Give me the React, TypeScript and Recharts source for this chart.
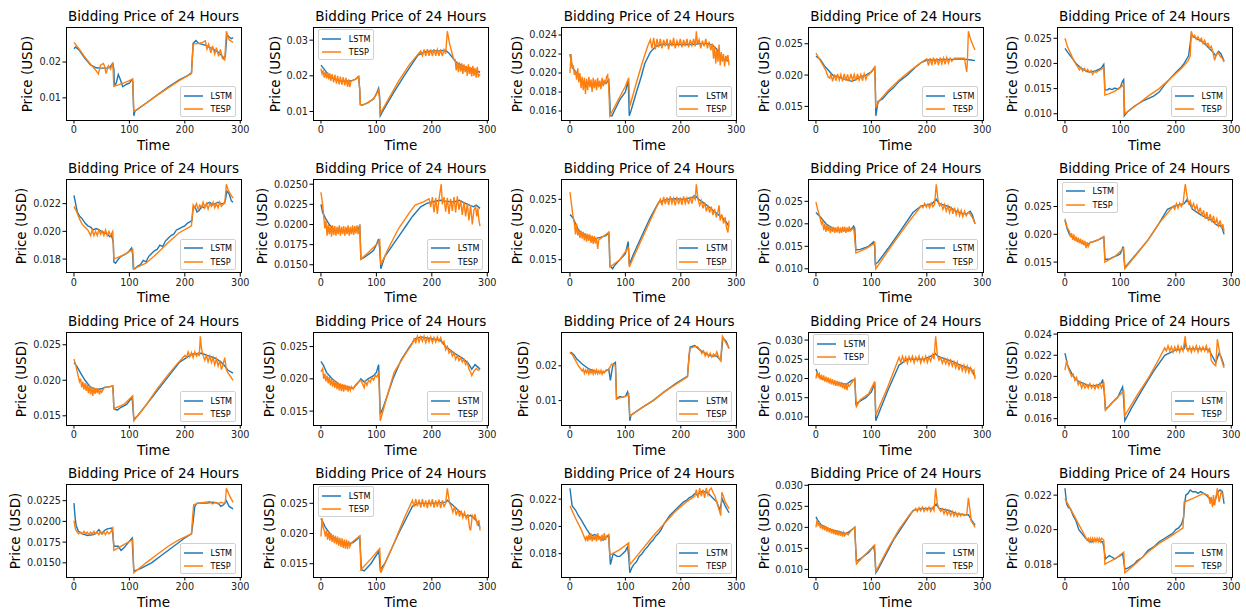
import { LineChart, Line, XAxis, YAxis } from 'recharts';

type Pt = [number, number];

// [time slot, price in 0.0001 USD] pairs for each hour-ahead forecast
const lstm01: Pt[] = [[0,237],[3,242],[10,232],[20,210],[30,192],[40,184],[50,183],[60,183],[65,186],[70,196],[72,180],[73,136],[76,140],[80,165],[84,150],[88,131],[95,138],[100,141],[104,150],[106,147],[108,50],[110,63],[130,85],[150,108],[170,130],[190,150],[205,162],[212,170],[215,252],[220,260],[225,252],[230,250],[235,248],[240,245],[245,240],[250,238],[255,232],[260,228],[265,220],[270,212],[273,215],[276,276],[280,270],[284,265],[287,268]];
const tesp01: Pt[] = [[0,255],[10,235],[20,213],[30,194],[38,180],[44,167],[48,191],[53,196],[55,190],[58,168],[62,190],[66,180],[70,198],[72,132],[80,136],[90,142],[100,148],[106,153],[108,62],[130,85],[150,107],[170,128],[190,148],[212,168],[215,250],[225,252],[232,255],[237,259],[240,236],[243,250],[247,226],[250,245],[254,222],[257,240],[261,216],[264,235],[268,210],[272,206],[275,286],[280,262],[287,255]];

const lstm02: Pt[] = [[0,230],[5,220],[15,200],[25,190],[35,186],[45,185],[55,186],[62,190],[68,198],[70,160],[71,120],[75,118],[85,125],[95,135],[100,150],[104,165],[106,140],[107,88],[110,97],[130,150],[150,200],[165,235],[175,258],[190,268],[205,270],[215,270],[225,272],[230,265],[238,250],[245,236],[255,228],[265,222],[275,218],[287,210]];
const tesp02: Pt[] = [[0,220],[2,205],[4,215],[6,195],[8,212],[10,193],[12,210],[14,190],[16,207],[18,186],[20,205],[23,182],[25,203],[28,178],[30,200],[33,176],[35,198],[38,175],[40,196],[43,173],[45,194],[48,170],[50,190],[52,168],[54,185],[58,188],[64,192],[68,197],[70,160],[71,118],[75,118],[85,125],[95,136],[100,148],[104,160],[106,130],[107,95],[120,130],[140,185],[160,232],[180,270],[183,256],[186,274],[189,255],[192,275],[195,256],[198,274],[201,255],[204,275],[207,256],[210,274],[213,256],[216,275],[219,255],[222,273],[225,262],[228,325],[232,290],[238,255],[240,245],[242,245],[244,215],[246,240],[248,210],[250,238],[252,212],[254,235],[256,205],[258,232],[260,210],[262,228],[264,200],[266,232],[268,205],[270,225],[272,198],[274,228],[276,200],[278,222],[280,195],[282,225],[284,198],[287,205]];

const lstm03: Pt[] = [[0,220],[3,210],[5,205],[12,200],[20,193],[25,190],[35,188],[45,187],[55,188],[65,189],[70,193],[72,170],[73,155],[76,155],[80,160],[90,172],[100,180],[105,192],[106,175],[107,155],[110,160],[120,180],[128,195],[135,210],[145,222],[155,228],[165,230],[180,230],[200,230],[220,230],[235,231],[250,231],[258,229],[265,225],[270,219],[275,215],[280,214],[287,212]];
const tesp03: Pt[] = [[0,200],[2,220],[4,205],[6,208],[8,198],[10,202],[12,193],[14,205],[16,190],[18,200],[20,184],[22,196],[24,182],[26,195],[28,178],[30,194],[32,182],[34,196],[36,185],[38,193],[40,180],[42,195],[44,184],[46,193],[48,182],[50,195],[52,185],[54,192],[56,183],[58,195],[60,186],[62,193],[64,188],[66,196],[68,198],[70,185],[72,155],[80,164],[90,175],[100,186],[106,195],[108,165],[120,190],[130,210],[140,228],[145,235],[148,226],[151,237],[154,225],[157,236],[160,227],[163,236],[166,226],[169,235],[172,228],[175,236],[178,225],[181,235],[184,228],[187,237],[190,226],[193,234],[196,229],[199,236],[202,227],[205,235],[208,228],[211,236],[214,227],[217,235],[220,229],[223,236],[226,228],[228,244],[230,230],[233,235],[236,226],[239,234],[242,228],[245,236],[248,226],[251,233],[254,224],[257,231],[259,215],[261,228],[263,210],[265,225],[267,212],[269,230],[271,208],[273,222],[275,212],[277,220],[279,207],[281,218],[283,214],[285,219],[287,208]];

const lstm04: Pt[] = [[0,230],[8,225],[15,215],[20,210],[30,200],[40,197],[50,194],[58,192],[65,190],[72,193],[80,197],[90,200],[100,205],[106,212],[107,190],[108,135],[112,158],[120,162],[130,172],[140,180],[150,190],[165,200],[180,213],[190,220],[200,224],[215,224],[230,225],[245,225],[260,226],[270,225],[280,224],[287,223]];
const tesp04: Pt[] = [[0,235],[10,220],[18,207],[22,197],[25,195],[27,202],[30,190],[33,201],[36,191],[39,202],[42,192],[45,201],[48,190],[51,202],[54,191],[57,201],[60,190],[63,202],[66,192],[69,201],[72,191],[75,202],[78,192],[81,201],[84,191],[87,202],[90,193],[93,201],[95,200],[106,213],[107,180],[108,148],[115,160],[130,175],[150,192],[170,207],[185,217],[200,226],[203,215],[206,227],[209,216],[212,228],[215,217],[218,227],[221,216],[224,228],[227,218],[230,227],[233,217],[236,228],[239,219],[242,227],[245,222],[250,227],[268,227],[270,215],[272,205],[273,218],[275,270],[278,260],[282,250],[287,240]];

const lstm05: Pt[] = [[0,230],[5,222],[10,215],[20,200],[30,190],[40,184],[45,183],[55,185],[65,190],[70,198],[71,180],[72,148],[76,147],[80,150],[85,148],[90,151],[95,149],[100,153],[104,165],[106,168],[107,96],[112,103],[125,115],[140,125],[160,135],[170,143],[180,158],[190,170],[200,182],[210,193],[215,200],[223,215],[226,240],[228,258],[232,253],[240,248],[245,245],[255,236],[260,230],[266,224],[272,215],[277,224],[281,220],[285,210],[287,205]];
const tesp05: Pt[] = [[0,250],[5,232],[10,220],[15,208],[20,198],[23,193],[26,187],[29,192],[32,185],[35,190],[38,184],[41,188],[44,182],[47,186],[50,178],[53,184],[56,182],[60,185],[65,188],[70,192],[71,170],[72,137],[80,140],[90,145],[100,152],[106,158],[108,100],[130,118],[150,135],[170,150],[190,170],[210,190],[222,205],[226,215],[228,264],[231,252],[234,256],[237,248],[240,253],[243,245],[246,250],[249,240],[252,246],[255,236],[258,240],[261,230],[264,234],[267,222],[270,206],[273,218],[276,222],[280,214],[284,210],[287,203]];

const lstm06: Pt[] = [[0,226],[3,220],[6,214],[10,211],[15,209],[20,206],[25,204],[30,203],[35,201],[40,202],[45,201],[50,200],[55,199],[60,198],[65,196],[68,197],[71,192],[72,178],[75,177],[80,180],[85,182],[90,183],[95,184],[100,186],[104,188],[106,183],[107,173],[110,173],[115,175],[120,176],[125,179],[130,178],[135,182],[140,184],[145,186],[150,187],[155,190],[160,189],[165,193],[170,195],[175,197],[180,198],[185,201],[190,202],[195,203],[200,204],[205,206],[210,207],[213,208],[215,217],[218,218],[222,214],[226,215],[230,218],[235,217],[240,220],[245,221],[250,219],[255,220],[260,221],[265,220],[270,220],[273,222],[276,229],[280,227],[284,222],[287,221]];
const tesp06: Pt[] = [[0,218],[5,214],[10,209],[15,205],[20,203],[25,201],[30,197],[33,201],[36,197],[39,200],[42,197],[45,201],[48,198],[51,200],[54,197],[57,201],[60,197],[63,200],[66,197],[70,200],[72,180],[90,183],[106,187],[108,173],[130,177],[150,184],[170,192],[190,199],[212,204],[215,219],[218,217],[221,220],[224,216],[227,219],[230,217],[233,221],[236,217],[239,220],[242,216],[245,220],[248,218],[251,221],[254,217],[257,220],[260,217],[263,221],[266,218],[270,220],[272,220],[275,234],[278,230],[282,227],[287,224]];

const lstm07: Pt[] = [[0,225],[3,215],[8,208],[15,200],[20,196],[25,193],[35,192],[45,192],[55,192],[65,193],[70,198],[71,180],[72,157],[75,158],[80,160],[90,165],[95,168],[100,175],[104,182],[106,170],[108,145],[115,160],[130,175],[145,190],[155,200],[165,210],[180,222],[190,226],[200,228],[215,230],[225,229],[240,228],[250,230],[258,227],[265,225],[275,222],[280,224],[287,220]];
const tesp07: Pt[] = [[0,240],[3,225],[5,210],[7,195],[9,205],[11,186],[13,200],[15,188],[17,198],[19,185],[21,199],[23,187],[25,198],[27,186],[29,197],[31,188],[33,199],[35,186],[37,197],[39,188],[41,198],[43,186],[45,197],[47,188],[49,199],[51,186],[53,197],[55,188],[57,199],[59,187],[61,198],[63,189],[65,199],[67,188],[70,200],[71,180],[72,157],[85,165],[100,175],[106,181],[108,150],[120,168],[140,195],[160,215],[170,224],[185,228],[195,232],[198,222],[201,234],[204,215],[207,233],[210,213],[213,232],[217,250],[219,225],[222,234],[225,216],[228,233],[231,213],[234,232],[237,217],[240,234],[243,215],[246,235],[249,218],[252,230],[255,212],[258,228],[261,210],[264,226],[267,205],[270,224],[273,200],[276,218],[279,222],[281,210],[283,220],[285,205],[287,198]];

const lstm08: Pt[] = [[0,225],[5,220],[10,210],[15,200],[20,195],[30,190],[45,185],[55,187],[65,190],[70,195],[71,175],[72,140],[77,135],[80,140],[90,150],[100,160],[105,180],[106,165],[107,142],[115,160],[130,190],[145,220],[160,245],[175,250],[190,251],[205,250],[220,253],[226,256],[232,250],[240,245],[250,238],[260,230],[270,223],[275,220],[282,212],[287,205]];
const tesp08: Pt[] = [[0,262],[3,240],[5,225],[8,210],[10,192],[12,210],[14,190],[16,200],[18,186],[20,198],[22,185],[24,196],[26,182],[28,194],[30,180],[32,193],[34,181],[36,192],[38,178],[40,190],[42,176],[44,189],[46,177],[48,186],[50,168],[52,183],[55,185],[62,190],[70,195],[71,175],[72,138],[90,150],[105,170],[106,160],[107,138],[120,165],[140,205],[155,235],[163,250],[166,240],[169,254],[172,242],[175,253],[178,241],[181,255],[184,243],[187,252],[190,240],[193,254],[196,242],[199,253],[202,241],[205,255],[208,243],[211,252],[214,242],[217,254],[220,243],[223,255],[226,250],[228,275],[231,250],[234,240],[237,248],[240,235],[243,245],[246,230],[249,240],[252,228],[255,238],[258,224],[261,234],[264,220],[267,230],[269,240],[271,215],[274,225],[277,210],[280,220],[282,205],[285,195],[287,215]];

const lstm09: Pt[] = [[0,225],[4,220],[8,215],[18,200],[30,190],[40,186],[50,185],[60,185],[65,190],[68,195],[70,190],[72,142],[80,143],[95,150],[104,160],[106,150],[107,110],[112,115],[130,145],[150,180],[175,225],[190,240],[200,242],[210,245],[217,255],[222,245],[230,242],[240,238],[250,230],[260,225],[265,222],[272,222],[278,228],[282,220],[287,200]];
const tesp09: Pt[] = [[0,248],[3,232],[6,220],[8,210],[10,200],[12,206],[14,186],[16,200],[18,182],[20,198],[22,184],[24,196],[26,180],[28,194],[30,182],[32,193],[34,180],[36,192],[38,181],[40,194],[42,179],[44,192],[46,180],[48,194],[50,182],[52,193],[54,180],[56,192],[58,182],[60,194],[62,184],[65,188],[68,190],[70,170],[72,135],[90,145],[104,155],[106,158],[108,100],[130,140],[150,175],[170,208],[190,240],[193,236],[196,245],[199,237],[202,244],[205,236],[208,246],[211,238],[214,244],[217,288],[220,255],[223,240],[226,245],[229,232],[232,243],[235,228],[238,240],[241,225],[244,238],[247,222],[250,236],[253,220],[256,232],[259,218],[262,230],[265,216],[268,228],[271,218],[274,225],[277,224],[280,218],[284,210],[287,200]];

const lstm10: Pt[] = [[0,225],[4,210],[8,200],[15,193],[25,188],[30,185],[40,180],[45,185],[55,188],[60,190],[70,195],[71,180],[72,155],[80,155],[85,158],[95,162],[100,165],[105,178],[106,165],[108,140],[125,160],[150,190],[170,220],[185,245],[200,252],[215,255],[220,262],[225,255],[230,245],[245,235],[255,230],[265,225],[272,218],[277,215],[280,216],[284,210],[287,200]];
const tesp10: Pt[] = [[0,228],[4,212],[8,205],[10,195],[12,202],[14,190],[16,200],[18,188],[20,196],[22,186],[24,194],[26,184],[28,192],[30,182],[32,190],[34,180],[36,188],[38,175],[40,186],[42,178],[45,185],[52,187],[60,190],[70,196],[71,175],[72,150],[90,160],[106,175],[108,138],[130,165],[150,190],[170,220],[195,250],[198,245],[201,255],[204,247],[207,256],[210,250],[213,255],[217,290],[220,270],[223,255],[226,260],[229,248],[232,255],[235,244],[238,252],[241,238],[244,248],[247,233],[250,243],[253,228],[256,240],[259,224],[262,236],[265,222],[268,233],[271,218],[274,228],[277,215],[280,225],[283,210],[285,218],[287,205]];

const lstm11: Pt[] = [[0,225],[5,220],[12,210],[20,200],[30,190],[40,187],[50,188],[55,190],[65,191],[70,192],[71,180],[72,160],[78,158],[85,162],[95,166],[105,176],[106,165],[108,145],[115,150],[135,170],[155,190],[175,210],[190,225],[205,233],[215,237],[230,238],[240,235],[255,231],[265,226],[272,220],[278,214],[287,210]];
const tesp11: Pt[] = [[0,230],[3,222],[5,215],[8,205],[10,198],[12,202],[14,190],[16,198],[18,187],[20,196],[22,185],[24,195],[26,182],[28,192],[30,180],[32,191],[34,178],[36,190],[38,181],[40,189],[42,182],[44,188],[46,180],[48,186],[50,183],[55,190],[60,190],[65,191],[70,192],[71,180],[72,160],[90,166],[106,178],[108,143],[130,165],[150,188],[170,208],[185,222],[200,235],[203,232],[206,240],[209,233],[212,239],[215,232],[218,240],[221,234],[224,238],[226,234],[228,262],[230,245],[233,235],[236,228],[239,235],[242,226],[245,234],[248,225],[251,232],[254,222],[257,230],[260,220],[263,228],[266,215],[269,222],[272,232],[275,215],[278,210],[282,206],[287,200]];

const lstm12: Pt[] = [[0,227],[5,220],[10,210],[20,200],[35,190],[50,187],[58,185],[65,192],[68,195],[72,200],[78,195],[85,200],[95,205],[100,210],[104,222],[105,200],[107,145],[112,155],[120,175],[130,200],[145,230],[160,250],[170,262],[180,265],[200,262],[215,260],[225,250],[240,240],[255,232],[265,225],[272,215],[278,222],[287,215]];
const tesp12: Pt[] = [[0,211],[3,216],[5,200],[7,208],[9,196],[11,205],[13,193],[15,203],[17,190],[19,200],[21,188],[23,198],[25,186],[27,196],[29,184],[31,194],[33,182],[35,193],[37,181],[39,192],[41,180],[43,191],[45,182],[47,190],[49,180],[51,189],[53,182],[55,188],[58,184],[62,190],[66,194],[72,198],[76,190],[78,186],[80,196],[83,190],[86,198],[89,195],[92,202],[95,198],[98,205],[101,203],[104,210],[105,190],[107,135],[120,175],[132,210],[150,235],[165,255],[168,262],[171,256],[174,266],[177,257],[180,265],[183,258],[186,266],[189,256],[192,264],[195,257],[198,265],[201,256],[204,264],[207,257],[210,265],[213,258],[216,264],[219,255],[222,258],[225,245],[228,250],[231,240],[234,244],[237,235],[240,240],[243,230],[246,236],[249,228],[252,233],[255,226],[258,230],[261,222],[264,226],[267,215],[270,210],[272,205],[276,212],[280,216],[284,213],[287,215]];

const lstm13: Pt[] = [[0,235],[3,238],[8,230],[12,220],[22,205],[35,190],[50,183],[60,180],[65,185],[70,190],[73,158],[76,190],[78,205],[82,210],[83,160],[84,105],[90,112],[95,110],[100,112],[104,125],[106,110],[108,42],[110,58],[130,80],[150,100],[170,125],[190,148],[205,163],[212,170],[215,230],[217,254],[225,258],[235,245],[245,235],[250,230],[258,228],[265,228],[272,215],[274,250],[276,280],[282,270],[287,250]];
const tesp13: Pt[] = [[0,240],[5,230],[12,210],[16,198],[20,190],[22,185],[24,191],[26,178],[28,188],[30,180],[32,189],[34,177],[36,188],[38,179],[40,187],[42,176],[44,186],[46,178],[48,188],[50,177],[52,186],[54,178],[56,187],[58,176],[60,185],[62,180],[65,188],[68,188],[72,195],[75,205],[82,200],[84,105],[95,110],[104,115],[106,122],[108,55],[130,80],[150,100],[170,125],[190,146],[212,168],[214,210],[216,250],[225,255],[230,255],[235,245],[238,235],[241,243],[244,228],[247,238],[250,226],[253,236],[256,225],[259,234],[262,228],[265,240],[268,225],[272,215],[275,285],[280,270],[287,250]];

const lstm14: Pt[] = [[0,225],[4,210],[8,200],[20,195],[35,190],[45,188],[55,185],[65,195],[70,198],[71,170],[72,133],[78,140],[90,150],[100,165],[104,180],[106,190],[107,140],[108,90],[112,105],[130,170],[150,235],[165,250],[180,250],[195,250],[210,260],[215,265],[220,258],[225,255],[245,245],[260,235],[270,230],[280,225],[287,205]];
const tesp14: Pt[] = [[0,200],[2,218],[4,205],[6,212],[8,198],[10,210],[12,195],[14,208],[16,192],[18,205],[20,190],[22,203],[24,187],[26,200],[28,185],[30,198],[32,183],[34,196],[36,181],[38,194],[40,180],[42,192],[44,178],[46,190],[48,175],[50,188],[52,172],[54,186],[56,170],[58,185],[60,180],[65,190],[70,200],[71,170],[73,127],[80,145],[95,160],[106,192],[107,150],[108,105],[130,180],[150,255],[153,242],[156,258],[159,244],[162,256],[165,240],[168,257],[171,245],[174,258],[177,241],[180,256],[183,246],[186,258],[189,240],[192,255],[195,244],[198,258],[201,242],[204,256],[207,245],[210,262],[213,250],[216,310],[219,260],[222,248],[225,255],[228,240],[231,252],[234,238],[237,250],[240,235],[243,248],[246,232],[249,244],[252,228],[255,242],[258,222],[261,238],[264,220],[267,235],[270,218],[273,232],[276,215],[279,228],[282,215],[285,222],[287,198]];

const lstm15: Pt[] = [[0,222],[5,210],[10,205],[15,200],[25,195],[40,192],[50,191],[60,192],[66,194],[68,197],[71,185],[73,169],[80,172],[85,175],[95,180],[104,190],[106,178],[108,158],[120,170],[140,188],[160,205],[180,220],[200,225],[215,226],[217,232],[220,226],[235,226],[250,226],[260,225],[265,220],[272,213],[278,222],[282,218],[287,210]];
const tesp15: Pt[] = [[0,206],[3,215],[6,208],[9,204],[12,200],[15,202],[18,196],[21,199],[24,192],[27,195],[30,189],[33,193],[36,189],[39,192],[42,189],[45,193],[48,189],[51,192],[54,188],[57,192],[60,189],[63,193],[66,189],[70,195],[71,185],[73,168],[90,178],[106,186],[108,163],[130,182],[150,198],[165,212],[180,227],[183,224],[186,229],[189,224],[192,228],[195,223],[198,228],[201,224],[204,229],[207,223],[210,228],[213,224],[217,238],[219,227],[222,224],[225,228],[228,223],[231,228],[234,224],[237,229],[240,223],[243,228],[246,224],[249,228],[252,224],[255,229],[258,223],[261,227],[264,215],[268,212],[272,210],[275,235],[280,220],[284,213],[287,208]];

const lstm16: Pt[] = [[0,222],[2,205],[4,195],[8,188],[15,185],[25,183],[35,184],[40,186],[45,190],[50,185],[55,189],[60,191],[68,192],[70,185],[72,170],[80,170],[85,165],[90,168],[95,172],[100,176],[105,180],[106,165],[108,140],[120,143],[140,150],[160,160],[180,170],[200,180],[212,185],[215,200],[218,218],[222,222],[240,222],[250,223],[260,222],[265,218],[270,220],[275,225],[280,218],[287,215]];
const tesp16: Pt[] = [[0,201],[3,190],[8,185],[12,187],[15,185],[18,188],[21,185],[24,187],[27,184],[30,187],[33,185],[36,188],[39,185],[42,187],[45,184],[48,188],[51,185],[54,187],[57,184],[60,188],[63,185],[66,187],[70,192],[71,180],[72,165],[90,172],[106,178],[108,138],[130,150],[150,160],[170,170],[190,178],[212,185],[214,205],[216,220],[225,222],[235,223],[245,224],[250,221],[255,223],[260,221],[265,223],[270,222],[273,222],[275,240],[280,232],[287,223]];

const lstm17: Pt[] = [[0,225],[4,218],[8,210],[20,195],[35,187],[50,183],[58,185],[65,190],[70,195],[71,175],[73,140],[78,138],[90,150],[104,170],[105,165],[107,140],[115,150],[140,200],[165,245],[175,250],[200,250],[225,252],[228,255],[240,245],[255,232],[265,228],[270,230],[280,222],[287,210]];
const tesp17: Pt[] = [[0,195],[2,225],[4,210],[6,205],[8,195],[10,205],[12,190],[14,203],[16,188],[18,200],[20,186],[22,198],[24,184],[26,196],[28,182],[30,195],[32,180],[34,193],[36,178],[38,192],[40,176],[42,190],[44,175],[46,190],[48,174],[50,188],[52,178],[55,185],[62,190],[70,196],[71,175],[72,140],[90,158],[106,175],[108,135],[130,180],[150,225],[165,255],[168,244],[171,257],[174,245],[177,256],[180,243],[183,257],[186,244],[189,255],[192,242],[195,256],[198,245],[201,257],[204,243],[207,255],[210,244],[213,256],[216,242],[219,255],[222,245],[225,250],[228,275],[232,250],[235,245],[238,235],[241,245],[244,230],[247,240],[250,228],[253,238],[256,226],[259,235],[262,225],[265,232],[268,210],[270,205],[273,230],[276,225],[278,232],[280,222],[282,215],[285,222],[287,205]];

const lstm18: Pt[] = [[0,228],[4,215],[10,212],[15,208],[20,205],[30,198],[38,193],[45,194],[50,193],[55,191],[60,190],[65,192],[70,193],[71,185],[73,172],[78,180],[85,178],[90,178],[95,180],[100,182],[104,185],[106,178],[108,166],[112,170],[115,172],[120,174],[125,178],[130,180],[135,183],[140,185],[145,188],[150,190],[155,193],[160,195],[165,198],[170,202],[175,205],[180,208],[185,210],[190,212],[195,214],[200,216],[205,218],[210,219],[215,221],[220,222],[225,224],[230,223],[235,225],[240,226],[245,225],[250,224],[255,222],[260,220],[265,218],[270,212],[275,220],[280,215],[287,210]];
const tesp18: Pt[] = [[0,215],[10,206],[20,198],[28,190],[30,193],[32,189],[34,194],[36,190],[38,195],[40,189],[42,193],[44,190],[46,194],[48,189],[50,195],[52,190],[54,193],[56,189],[58,194],[60,190],[62,195],[64,190],[66,193],[70,194],[71,185],[72,179],[90,183],[106,188],[108,172],[130,183],[150,193],[170,202],[190,211],[210,218],[225,222],[228,227],[231,221],[234,228],[237,222],[240,227],[243,221],[246,228],[249,223],[252,227],[255,228],[258,225],[262,222],[266,216],[270,211],[272,208],[274,225],[277,222],[280,218],[287,213]];

const lstm19: Pt[] = [[0,225],[4,215],[10,205],[25,195],[40,190],[55,185],[65,195],[70,200],[71,170],[73,120],[80,125],[95,140],[104,155],[106,140],[108,92],[112,100],[140,170],[175,240],[190,245],[210,245],[217,255],[222,245],[240,240],[255,232],[270,230],[275,230],[282,215],[287,205]];
const tesp19: Pt[] = [[0,200],[2,218],[4,205],[6,210],[8,198],[10,207],[12,195],[14,205],[16,193],[18,203],[20,190],[22,200],[24,188],[26,198],[28,186],[30,196],[32,184],[34,194],[36,182],[38,193],[40,181],[42,192],[44,180],[46,190],[48,178],[50,188],[52,180],[55,187],[58,182],[62,190],[70,200],[71,170],[73,113],[85,130],[100,150],[106,158],[108,95],[130,150],[150,195],[170,232],[180,245],[183,238],[186,247],[189,239],[192,248],[195,238],[198,246],[201,240],[204,248],[207,238],[210,247],[213,240],[216,293],[219,255],[222,245],[225,238],[228,244],[231,232],[234,242],[237,230],[240,240],[243,228],[246,238],[249,227],[252,236],[255,226],[258,234],[261,227],[264,232],[267,228],[270,230],[272,230],[275,270],[278,240],[280,215],[284,208],[287,200]];

const lstm20: Pt[] = [[0,224],[3,215],[6,213],[10,212],[15,208],[20,205],[25,200],[30,198],[35,196],[40,194],[45,193],[50,193],[55,194],[60,194],[65,193],[68,193],[70,190],[73,183],[80,185],[85,184],[90,183],[95,184],[100,185],[104,186],[106,182],[108,177],[115,178],[120,179],[125,180],[130,182],[140,184],[150,188],[160,190],[170,193],[180,195],[190,197],[195,198],[200,200],[205,201],[210,203],[214,207],[216,215],[218,220],[222,221],[226,223],[230,222],[236,222],[240,221],[245,222],[250,221],[255,220],[258,219],[262,218],[266,216],[268,215],[272,218],[276,222],[280,223],[284,222],[287,215]];
const tesp20: Pt[] = [[0,218],[10,212],[20,206],[30,200],[40,194],[42,195],[44,193],[46,195],[48,193],[50,195],[52,193],[54,195],[56,193],[58,195],[60,193],[62,195],[64,193],[66,195],[70,194],[71,188],[72,180],[90,183],[106,187],[108,175],[130,181],[150,187],[170,192],[190,196],[213,201],[215,216],[230,218],[250,221],[258,220],[260,218],[262,215],[264,219],[266,213],[268,220],[270,214],[272,218],[275,224],[278,216],[282,222],[287,218]];

// y tick labels per panel, exactly as printed
const yTicks01 = ['0.01', '0.02'];
const yTicks02 = ['0.01', '0.02', '0.03'];
const yTicks03 = ['0.016', '0.018', '0.020', '0.022', '0.024'];
const yTicks04 = ['0.015', '0.020', '0.025'];
const yTicks05 = ['0.010', '0.015', '0.020', '0.025'];
const yTicks06 = ['0.018', '0.020', '0.022'];
const yTicks07 = ['0.0150', '0.0175', '0.0200', '0.0225', '0.0250'];
const yTicks08 = ['0.015', '0.020', '0.025'];
const yTicks09 = ['0.010', '0.015', '0.020', '0.025'];
const yTicks10 = ['0.015', '0.020', '0.025'];
const yTicks11 = ['0.015', '0.020', '0.025'];
const yTicks12 = ['0.015', '0.020', '0.025'];
const yTicks13 = ['0.01', '0.02'];
const yTicks14 = ['0.010', '0.015', '0.020', '0.025', '0.030'];
const yTicks15 = ['0.016', '0.018', '0.020', '0.022', '0.024'];
const yTicks16 = ['0.0150', '0.0175', '0.0200', '0.0225'];
const yTicks17 = ['0.015', '0.020', '0.025'];
const yTicks18 = ['0.018', '0.020', '0.022'];
const yTicks19 = ['0.010', '0.015', '0.020', '0.025', '0.030'];
const yTicks20 = ['0.018', '0.020', '0.022'];

const timeTicks = [0, 100, 200, 300];
const seriesNames = ['LSTM', 'TESP'];
const TITLE = 'Bidding Price of 24 Hours';

const COLORS = ['#1f77b4', '#ff7f0e'];
const FONT = '"DejaVu Sans", Verdana, sans-serif';

// plot-area placement of the 5x4 grid
const colLeft = [66, 313.3, 561.7, 808.3, 1057];
const rowTop = [27.3, 179.7, 332, 484];
const PW = 175;
const PH = 93;
const TICK_FS = 9.7;
const LINE_W = 1.4;

type LegendAt = 'br' | 'tl';

const panels: { lstm: Pt[]; tesp: Pt[]; yTicks: string[]; legend: LegendAt }[] = [
  { lstm: lstm01, tesp: tesp01, yTicks: yTicks01, legend: 'br' },
  { lstm: lstm02, tesp: tesp02, yTicks: yTicks02, legend: 'tl' },
  { lstm: lstm03, tesp: tesp03, yTicks: yTicks03, legend: 'br' },
  { lstm: lstm04, tesp: tesp04, yTicks: yTicks04, legend: 'br' },
  { lstm: lstm05, tesp: tesp05, yTicks: yTicks05, legend: 'br' },
  { lstm: lstm06, tesp: tesp06, yTicks: yTicks06, legend: 'br' },
  { lstm: lstm07, tesp: tesp07, yTicks: yTicks07, legend: 'br' },
  { lstm: lstm08, tesp: tesp08, yTicks: yTicks08, legend: 'br' },
  { lstm: lstm09, tesp: tesp09, yTicks: yTicks09, legend: 'br' },
  { lstm: lstm10, tesp: tesp10, yTicks: yTicks10, legend: 'tl' },
  { lstm: lstm11, tesp: tesp11, yTicks: yTicks11, legend: 'br' },
  { lstm: lstm12, tesp: tesp12, yTicks: yTicks12, legend: 'br' },
  { lstm: lstm13, tesp: tesp13, yTicks: yTicks13, legend: 'br' },
  { lstm: lstm14, tesp: tesp14, yTicks: yTicks14, legend: 'tl' },
  { lstm: lstm15, tesp: tesp15, yTicks: yTicks15, legend: 'br' },
  { lstm: lstm16, tesp: tesp16, yTicks: yTicks16, legend: 'br' },
  { lstm: lstm17, tesp: tesp17, yTicks: yTicks17, legend: 'tl' },
  { lstm: lstm18, tesp: tesp18, yTicks: yTicks18, legend: 'br' },
  { lstm: lstm19, tesp: tesp19, yTicks: yTicks19, legend: 'br' },
  { lstm: lstm20, tesp: tesp20, yTicks: yTicks20, legend: 'br' },
];

const toRows = (pts: Pt[]) => pts.map(([t, v]) => ({ t, p: v / 1e4 }));

// rough DejaVu Sans width of a tick string
const textWidth = (s: string) =>
  [...s].reduce((w, ch) => w + (ch === '.' ? 0.318 : 0.636), 0) * TICK_FS;

const labelStyle: React.CSSProperties = {
  position: 'absolute',
  height: 18,
  lineHeight: '18px',
  textAlign: 'center',
  fontSize: 13.5,
  fontFamily: FONT,
  color: '#000',
  whiteSpace: 'nowrap',
};

function Panel({ idx }: { idx: number }) {
  const { lstm, tesp, yTicks, legend } = panels[idx];
  const col = idx % 5;
  const row = Math.floor(idx / 5);
  const left = colLeft[col];
  const top = rowTop[row];

  const vals = [...lstm, ...tesp].map((d) => d[1]);
  const lo = Math.min(...vals);
  const hi = Math.max(...vals);
  const pad = (hi - lo) * 0.05;
  const yDomain = [(lo - pad) / 1e4, (hi + pad) / 1e4];
  const yTickNums = yTicks.map(Number);
  const fmtY = (v: number) =>
    yTicks.find((s) => Math.abs(Number(s) - v) < 1e-9) ?? String(v);

  const maxTickW = Math.max(...yTicks.map(textWidth));
  const yLabelX = left - 5 - maxTickW - 12;

  const legendStyle: React.CSSProperties =
    legend === 'br'
      ? { left: left + PW - 5 - 56, top: top + PH - 3 - 31 }
      : { left: left + 5, top: top + 2 };

  return (
    <>
      <div style={{ position: 'absolute', left: left - 66, top: top - 27 }}>
        <LineChart
          width={270}
          height={152}
          margin={{ top: 27, right: 29, bottom: 0, left: 0 }}
        >
          <XAxis
            type="number"
            dataKey="t"
            domain={[-14.35, 301.35]}
            allowDataOverflow
            ticks={timeTicks}
            interval={0}
            height={32}
            axisLine={false}
            tickLine={{ stroke: '#000' }}
            tickSize={3.5}
            tickMargin={2.5}
            tick={{ fill: '#222', fontSize: TICK_FS, fontFamily: FONT }}
          />
          <YAxis
            type="number"
            dataKey="p"
            domain={yDomain}
            allowDataOverflow
            ticks={yTickNums}
            interval={0}
            width={66}
            axisLine={false}
            tickLine={{ stroke: '#000' }}
            tickSize={3.5}
            tickMargin={1.5}
            tickFormatter={fmtY}
            tick={{ fill: '#222', fontSize: TICK_FS, fontFamily: FONT }}
          />
          <Line
            data={toRows(lstm)}
            dataKey="p"
            name={seriesNames[0]}
            type="linear"
            stroke={COLORS[0]}
            strokeWidth={LINE_W}
            dot={false}
            isAnimationActive={false}
          />
          <Line
            data={toRows(tesp)}
            dataKey="p"
            name={seriesNames[1]}
            type="linear"
            stroke={COLORS[1]}
            strokeWidth={LINE_W}
            dot={false}
            isAnimationActive={false}
          />
        </LineChart>
      </div>

      {/* axes frame */}
      <div
        style={{
          position: 'absolute',
          left: left - 0.5,
          top: top - 0.5,
          width: PW + 1,
          height: PH + 1,
          border: '1px solid #000',
          boxSizing: 'border-box',
          pointerEvents: 'none',
        }}
      />

      <div style={{ ...labelStyle, left: left - 40, width: PW + 80, top: top - 20.3 }}>
        {TITLE}
      </div>

      <div style={{ ...labelStyle, left: left + PW / 2 - 50, width: 100, top: top + PH + 15.7 }}>
        Time
      </div>

      <div
        style={{
          ...labelStyle,
          left: yLabelX - 60,
          width: 120,
          top: top + PH / 2 - 9,
          transform: 'rotate(-90deg)',
        }}
      >
        Price (USD)
      </div>

      <div
        style={{
          position: 'absolute',
          ...legendStyle,
          width: 56,
          height: 31,
          boxSizing: 'border-box',
          border: '1px solid #d0d0d0',
          borderRadius: 2,
          background: 'rgba(255,255,255,0.8)',
          fontFamily: FONT,
          fontSize: 8.1,
          color: '#000',
        }}
      >
        {seriesNames.map((name, i) => (
          <div
            key={name}
            style={{
              position: 'absolute',
              left: 2.5,
              top: 3 + i * 13.5,
              height: 11,
              display: 'flex',
              alignItems: 'center',
            }}
          >
            <svg width={19} height={4} style={{ marginRight: 8 }}>
              <line x1={0} y1={2} x2={19} y2={2} stroke={COLORS[i]} strokeWidth={1.5} />
            </svg>
            <span>{name}</span>
          </div>
        ))}
      </div>
    </>
  );
}

export default function App() {
  return (
    <div
      style={{
        position: 'absolute',
        left: 0,
        top: 0,
        width: 1246,
        height: 612,
        background: '#fff',
        overflow: 'hidden',
      }}
    >
      {panels.map((_, i) => (
        <Panel key={i} idx={i} />
      ))}
    </div>
  );
}
